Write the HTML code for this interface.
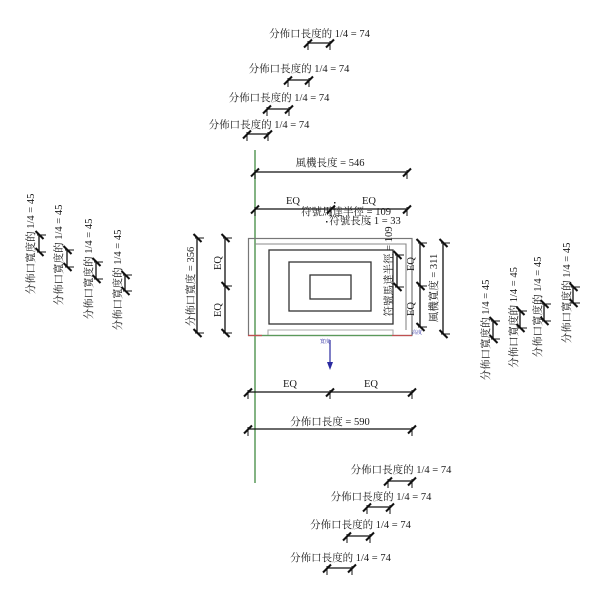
<!DOCTYPE html>
<html><head><meta charset="utf-8">
<style>
html,body{margin:0;padding:0;background:#fff;}
svg{display:block;}
text{font-family:"Liberation Serif","Noto Serif CJK SC",serif;font-size:10.5px;fill:#1a1a1a;}
.s{font-size:5px;fill:#2a2aa0;}
</style></head>
<body>
<svg width="600" height="600" viewBox="0 0 600 600" xmlns="http://www.w3.org/2000/svg">
<defs>
<g id="t" stroke="#111" fill="none">
<line x1="-4" y1="4.5" x2="4" y2="-3.5" stroke-width="2"/>
<line x1="0" y1="-2" x2="0" y2="7" stroke-width="1"/>
</g>
<g id="v" stroke="#111" fill="none" transform="rotate(-90)">
<line x1="-4" y1="4.5" x2="4" y2="-3.5" stroke-width="2"/>
<line x1="0" y1="-2" x2="0" y2="7" stroke-width="1"/>
</g>
</defs>

<!-- green vertical line -->
<line x1="255" y1="150" x2="255" y2="483" stroke="#5a9a5a" stroke-width="1.5"/>

<!-- top quarter dims -->
<g stroke="#111" stroke-width="1.3">
<line x1="308" y1="43" x2="330" y2="43"/>
<line x1="288" y1="80" x2="309" y2="80"/>
<line x1="267" y1="109" x2="289" y2="109"/>
<line x1="247" y1="134" x2="268" y2="134"/>
</g>
<use href="#t" x="308" y="43"/><use href="#t" x="330" y="43"/>
<use href="#t" x="288" y="80"/><use href="#t" x="309" y="80"/>
<use href="#t" x="267" y="109"/><use href="#t" x="289" y="109"/>
<use href="#t" x="247" y="134"/><use href="#t" x="268" y="134"/>
<text x="319.5" y="37" text-anchor="middle">分佈口長度的 1/4 = 74</text>
<text x="299" y="72" text-anchor="middle">分佈口長度的 1/4 = 74</text>
<text x="279" y="101" text-anchor="middle">分佈口長度的 1/4 = 74</text>
<text x="259" y="128" text-anchor="middle">分佈口長度的 1/4 = 74</text>

<!-- 風機長度 -->
<line x1="255" y1="172" x2="407" y2="172" stroke="#111" stroke-width="1.3"/>
<use href="#t" x="255" y="172"/><use href="#t" x="407" y="172"/>
<text x="330" y="166" text-anchor="middle">風機長度 = 546</text>

<!-- EQ top -->
<line x1="255" y1="209" x2="407" y2="209" stroke="#111" stroke-width="1.3"/>
<use href="#t" x="255" y="209"/><use href="#t" x="331" y="209"/><use href="#t" x="407" y="209"/>
<text x="293" y="204" text-anchor="middle">EQ</text>
<text x="369" y="204" text-anchor="middle">EQ</text>
<text x="346" y="215" text-anchor="middle">符號馬達半徑 = 109</text>
<text x="365" y="224" text-anchor="middle">符號長度 1 = 33</text>
<g fill="#222">
<rect x="334" y="202" width="1.5" height="1.5"/>
<rect x="326" y="221" width="1.5" height="1.5"/>
<rect x="369" y="222" width="1.5" height="1.5"/>
</g>

<!-- rectangles -->
<rect x="248.5" y="238.5" width="163.5" height="97" fill="none" stroke="#777" stroke-width="1.2"/>
<path d="M255,244 H406 V330" fill="none" stroke="#888" stroke-width="1.1"/>
<path d="M268,336 V330 H393 V336" fill="none" stroke="#aaa" stroke-width="1.1"/>
<rect x="269" y="250" width="124" height="74" fill="none" stroke="#333" stroke-width="1.3"/>
<rect x="289" y="262" width="82" height="49" fill="none" stroke="#333" stroke-width="1.3"/>
<rect x="310" y="275" width="41" height="24" fill="none" stroke="#333" stroke-width="1.3"/>
<line x1="255" y1="335.5" x2="392" y2="335.5" stroke="#5a9a5a" stroke-width="1.3"/>
<line x1="392" y1="335.5" x2="412" y2="335.5" stroke="#c05050" stroke-width="1.3"/>
<line x1="248" y1="335.5" x2="262" y2="335.5" stroke="#c05050" stroke-width="1.3"/>

<!-- blue arrow -->
<line x1="330" y1="340" x2="330" y2="364" stroke="#2a2aa0" stroke-width="1.2"/>
<path d="M327,362 L333,362 L330,370 Z" fill="#2a2aa0"/>
<text class="s" x="325" y="343" text-anchor="middle">寬度</text>
<text class="s" x="417" y="334" text-anchor="middle">高度</text>

<!-- right vertical dims near rect -->
<text transform="translate(392,271.5) rotate(-90)" text-anchor="middle">符號馬達半徑 = 109</text>
<line x1="397" y1="255" x2="397" y2="287" stroke="#111" stroke-width="1.3"/>
<use href="#v" x="397" y="255"/><use href="#v" x="397" y="287"/>

<line x1="420" y1="243" x2="420" y2="327" stroke="#111" stroke-width="1.3"/>
<use href="#v" x="420" y="243"/><use href="#v" x="420" y="286"/><use href="#v" x="420" y="327"/>
<text transform="translate(414,264) rotate(-90)" text-anchor="middle">EQ</text>
<text transform="translate(414,309) rotate(-90)" text-anchor="middle">EQ</text>

<line x1="443" y1="243" x2="443" y2="334" stroke="#111" stroke-width="1.3"/>
<use href="#v" x="443" y="243"/><use href="#v" x="443" y="334"/>
<text transform="translate(437,288) rotate(-90)" text-anchor="middle">風機寬度 = 311</text>

<!-- left vertical dims near rect -->
<line x1="197" y1="238" x2="197" y2="333" stroke="#111" stroke-width="1.3"/>
<use href="#v" x="197" y="238"/><use href="#v" x="197" y="333"/>
<text transform="translate(194,286.5) rotate(-90)" text-anchor="middle">分佈口寬度 = 356</text>

<line x1="225" y1="238" x2="225" y2="333" stroke="#111" stroke-width="1.3"/>
<use href="#v" x="225" y="238"/><use href="#v" x="225" y="286"/><use href="#v" x="225" y="333"/>
<text transform="translate(221,263) rotate(-90)" text-anchor="middle">EQ</text>
<text transform="translate(221,310) rotate(-90)" text-anchor="middle">EQ</text>

<!-- left quarter dims -->
<text transform="translate(34,244) rotate(-90)" text-anchor="middle">分佈口寬度的 1/4 = 45</text>
<text transform="translate(62,255) rotate(-90)" text-anchor="middle">分佈口寬度的 1/4 = 45</text>
<text transform="translate(92,269) rotate(-90)" text-anchor="middle">分佈口寬度的 1/4 = 45</text>
<text transform="translate(121,280) rotate(-90)" text-anchor="middle">分佈口寬度的 1/4 = 45</text>
<g stroke="#111" stroke-width="1.3">
<line x1="39" y1="235" x2="39" y2="252"/>
<line x1="67" y1="250" x2="67" y2="267"/>
<line x1="96" y1="262" x2="96" y2="279"/>
<line x1="125" y1="275" x2="125" y2="291"/>
</g>
<use href="#v" x="39" y="235"/><use href="#v" x="39" y="252"/>
<use href="#v" x="67" y="250"/><use href="#v" x="67" y="267"/>
<use href="#v" x="96" y="262"/><use href="#v" x="96" y="279"/>
<use href="#v" x="125" y="275"/><use href="#v" x="125" y="291"/>

<!-- right quarter dims -->
<text transform="translate(489,330) rotate(-90)" text-anchor="middle">分佈口寬度的 1/4 = 45</text>
<text transform="translate(517,317.5) rotate(-90)" text-anchor="middle">分佈口寬度的 1/4 = 45</text>
<text transform="translate(541,307) rotate(-90)" text-anchor="middle">分佈口寬度的 1/4 = 45</text>
<text transform="translate(570,293) rotate(-90)" text-anchor="middle">分佈口寬度的 1/4 = 45</text>
<g stroke="#111" stroke-width="1.3">
<line x1="493" y1="321" x2="493" y2="339"/>
<line x1="520" y1="311" x2="520" y2="328"/>
<line x1="544" y1="304" x2="544" y2="321"/>
<line x1="573" y1="287" x2="573" y2="303"/>
</g>
<use href="#v" x="493" y="321"/><use href="#v" x="493" y="339"/>
<use href="#v" x="520" y="311"/><use href="#v" x="520" y="328"/>
<use href="#v" x="544" y="304"/><use href="#v" x="544" y="321"/>
<use href="#v" x="573" y="287"/><use href="#v" x="573" y="303"/>

<!-- bottom EQ -->
<line x1="248" y1="392" x2="412" y2="392" stroke="#111" stroke-width="1.3"/>
<use href="#t" x="248" y="392"/><use href="#t" x="330" y="392"/><use href="#t" x="412" y="392"/>
<text x="290" y="387" text-anchor="middle">EQ</text>
<text x="371" y="387" text-anchor="middle">EQ</text>

<!-- 分佈口長度 -->
<line x1="248" y1="429" x2="412" y2="429" stroke="#111" stroke-width="1.3"/>
<use href="#t" x="248" y="429"/><use href="#t" x="412" y="429"/>
<text x="330" y="425" text-anchor="middle">分佈口長度 = 590</text>

<!-- bottom quarter dims -->
<g stroke="#111" stroke-width="1.3">
<line x1="388" y1="481" x2="412" y2="481"/>
<line x1="367" y1="507" x2="390" y2="507"/>
<line x1="347" y1="536" x2="370" y2="536"/>
<line x1="327" y1="568" x2="352" y2="568"/>
</g>
<use href="#t" x="388" y="481"/><use href="#t" x="412" y="481"/>
<use href="#t" x="367" y="507"/><use href="#t" x="390" y="507"/>
<use href="#t" x="347" y="536"/><use href="#t" x="370" y="536"/>
<use href="#t" x="327" y="568"/><use href="#t" x="352" y="568"/>
<text x="401" y="473" text-anchor="middle">分佈口長度的 1/4 = 74</text>
<text x="381" y="500" text-anchor="middle">分佈口長度的 1/4 = 74</text>
<text x="360.5" y="528" text-anchor="middle">分佈口長度的 1/4 = 74</text>
<text x="340.5" y="561" text-anchor="middle">分佈口長度的 1/4 = 74</text>
</svg>
</body></html>
